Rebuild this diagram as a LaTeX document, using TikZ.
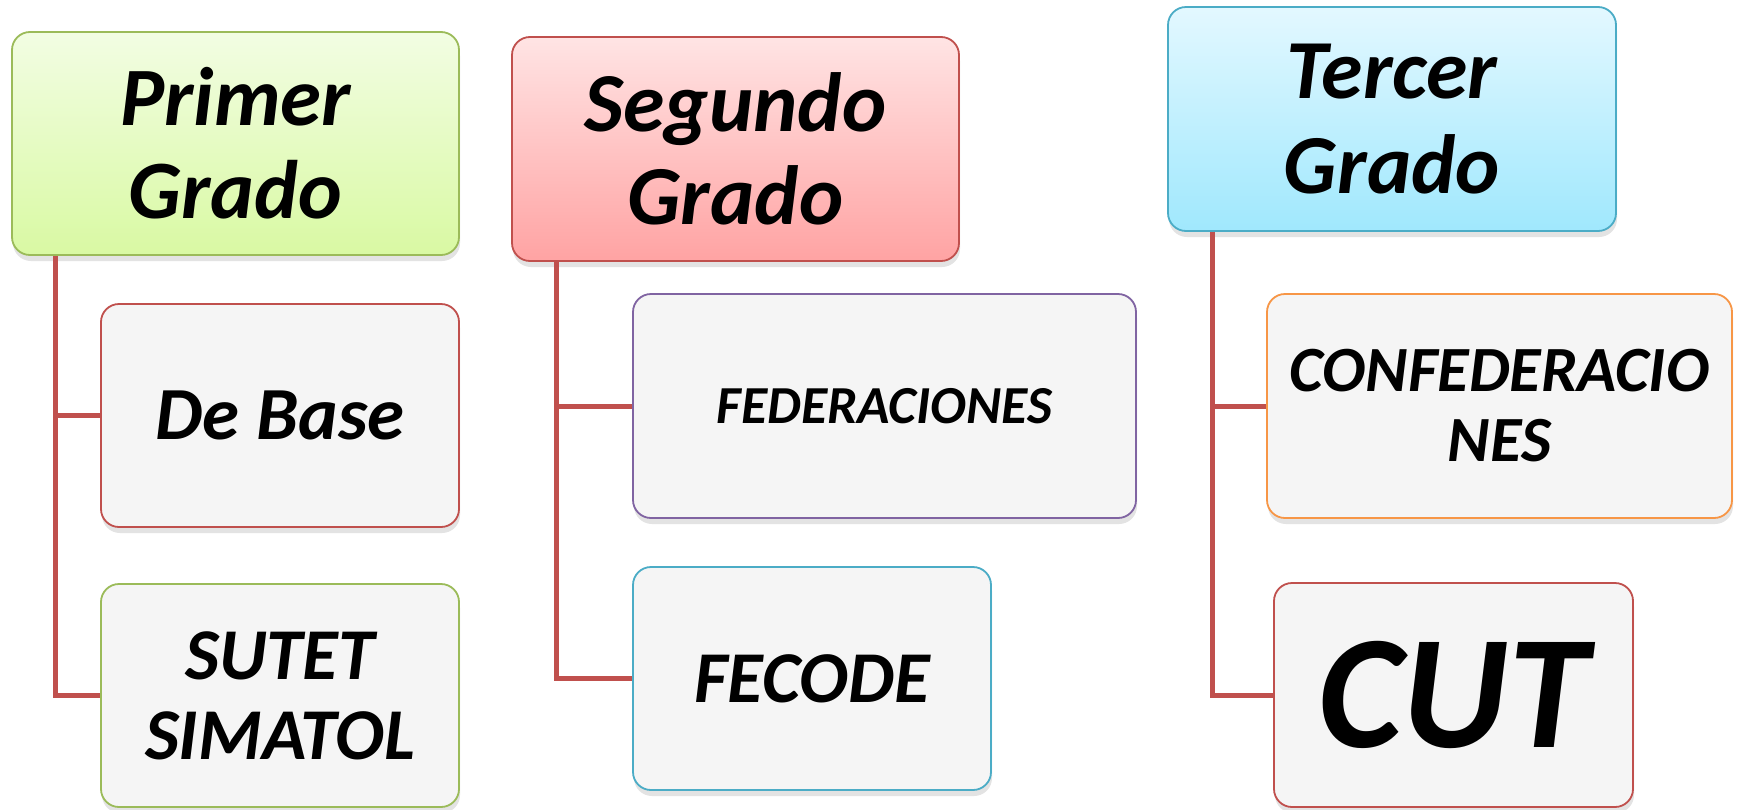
\documentclass[tikz,border=0pt]{standalone}
\usepackage{fontspec}
\setmainfont{Carlito}
\usetikzlibrary{shadows}
\definecolor{gbord}{HTML}{9BBB59}
\definecolor{rbord}{HTML}{C0504D}
\definecolor{cbord}{HTML}{4BACC6}
\definecolor{pbord}{HTML}{8064A2}
\definecolor{obord}{HTML}{F79646}
\definecolor{boxgray}{HTML}{F5F5F5}
\definecolor{gtop}{HTML}{F2FDE3}
\definecolor{gbot}{HTML}{D9F9A3}
\definecolor{rtop}{HTML}{FFE4E4}
\definecolor{rbot}{HTML}{FFA3A3}
\definecolor{ctop}{HTML}{E3F8FF}
\definecolor{cbot}{HTML}{A0E8FD}
\tikzset{
  box/.style={draw, line width=1.8pt, rounded corners=18pt, inner sep=0pt,
    align=center, font=\bfseries\itshape,
    drop shadow={opacity=0.22, shadow xshift=1pt, shadow yshift=-6pt}},
  child/.style={box, fill=boxgray},
  conn/.style={draw=rbord, line width=5pt},
}
\begin{document}
\begin{tikzpicture}[x=1pt,y=-1pt]
\useasboundingbox[fill=white] (0,0) rectangle (1739,809);
% top level
\node[box, draw=gbord, top color=gtop, bottom color=gbot,
  minimum width=447pt, minimum height=223pt, font=\fontsize{83}{93}\selectfont\bfseries\itshape]
  (P) at (235.5,143.5) {Primer\\Grado};
\node[box, draw=rbord, top color=rtop, bottom color=rbot,
  minimum width=447pt, minimum height=224pt, font=\fontsize{84}{93}\selectfont\bfseries\itshape]
  (S) at (735.5,149) {Segundo\\Grado};
\node[box, draw=cbord, top color=ctop, bottom color=cbot,
  minimum width=448pt, minimum height=224pt, font=\fontsize{84}{95}\selectfont\bfseries\itshape]
  (T) at (1392,119) {Tercer\\Grado};
% children
\node[child, draw=rbord, minimum width=358pt, minimum height=223pt,
  font=\fontsize{75}{80}\selectfont\bfseries\itshape] (DB) at (280,415.5) {De Base};
\node[child, draw=gbord, minimum width=358pt, minimum height=223pt,
  font=\fontsize{73}{80}\selectfont\bfseries\itshape] (ST) at (280,695.5) {SUTET\\SIMATOL};
\node[child, draw=pbord, minimum width=503pt, minimum height=224pt,
  font=\fontsize{53.5}{60}\selectfont\bfseries\itshape] (FD) at (884.5,406) {FEDERACIONES};
\node[child, draw=cbord, minimum width=358pt, minimum height=223pt,
  font=\fontsize{73}{80}\selectfont\bfseries\itshape] (FC) at (812,678.5) {FECODE};
\node[child, draw=obord, minimum width=465pt, minimum height=224pt,
  font=\fontsize{64.5}{70}\selectfont\bfseries\itshape] (CF) at (1499.5,406) {CONFEDERACIO\\NES};
\node[child, draw=rbord, minimum width=359pt, minimum height=224pt,
  font=\fontsize{162}{165}\selectfont\bfseries\itshape] (CU) at (1453.5,695) {CUT};
% connectors
\draw[conn] ([xshift=44pt]P.south west) |- (DB.west);
\draw[conn] ([xshift=44pt]P.south west) |- (ST.west);
\draw[conn] ([xshift=45pt]S.south west) |- (FD.west);
\draw[conn] ([xshift=45pt]S.south west) |- (FC.west);
\draw[conn] ([xshift=45pt]T.south west) |- (CF.west);
\draw[conn] ([xshift=45pt]T.south west) |- (CU.west);
\end{tikzpicture}
\end{document}
